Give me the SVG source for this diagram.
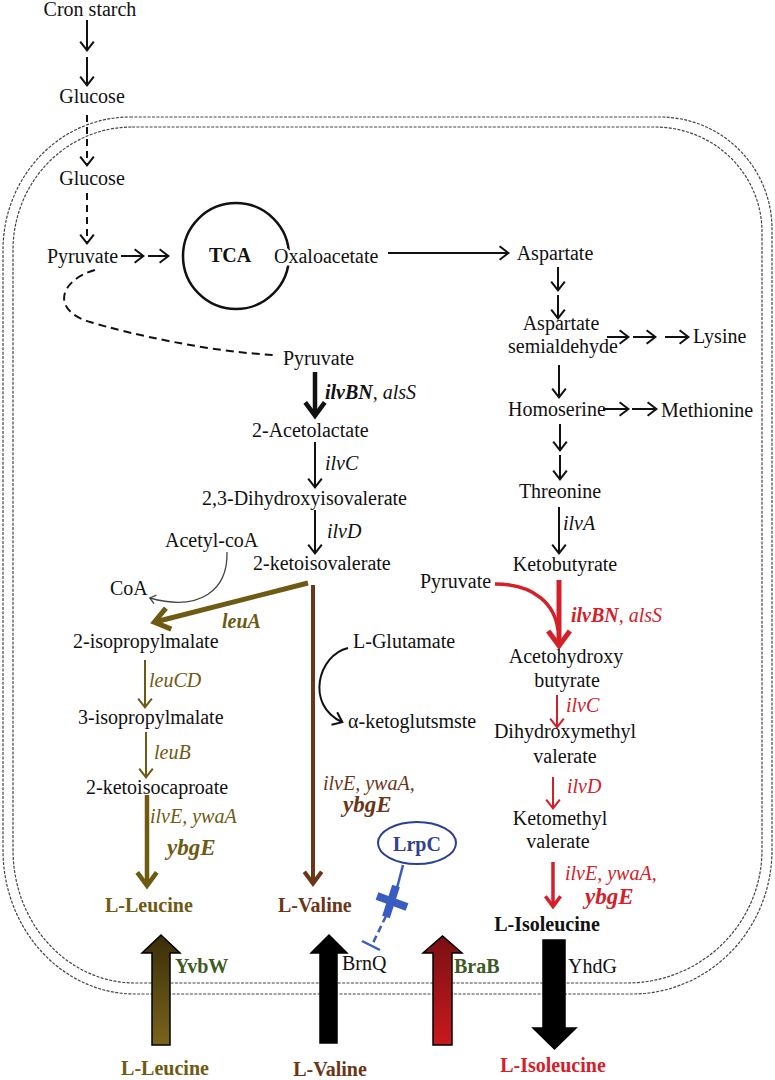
<svg xmlns="http://www.w3.org/2000/svg" width="775" height="1080" viewBox="0 0 775 1080">
<style>
.t{font-family:"Liberation Serif","Times New Roman",serif;font-size:20px;fill:#111}
.m{text-anchor:middle}
.it{font-style:italic}
.bd{font-weight:bold}
.big{font-size:23px}
.ol{fill:#6e5a12}
.br{fill:#6b3617}
.rd{fill:#d4202a}
.gn{fill:#3d5a22}
.bl{fill:#2c3f94}
.mem{fill:none;stroke:#444;stroke-width:1.2;stroke-dasharray:3 1.4}
.k{fill:none;stroke:#111;stroke-width:2;marker-end:url(#ak)}
.kd{fill:none;stroke:#111;stroke-width:2;stroke-dasharray:7 5;marker-end:url(#ak)}
.kT{fill:none;stroke:#111;stroke-width:4.5;marker-end:url(#akT)}
.r{fill:none;stroke:#d4202a;stroke-width:2;marker-end:url(#ar)}
.rT{fill:none;stroke:#d4202a;marker-end:url(#arT)}
.o{fill:none;stroke:#6e5a12;stroke-width:2;marker-end:url(#ao)}
.oT{fill:none;stroke:#6e5a12;marker-end:url(#aoT)}
.b{fill:none;stroke:#6b3617;stroke-width:4;marker-end:url(#abT)}
.blk{stroke:#000;stroke-width:1.5}
</style>
<defs>
<marker id="ak" viewBox="0 0 6 8" markerWidth="6" markerHeight="8" refX="4.8" refY="4" orient="auto" markerUnits="strokeWidth" overflow="visible"><path d="M0.6,0.6 L5,4 L0.6,7.4" fill="none" stroke="#111" stroke-width="1"/></marker>
<marker id="ar" viewBox="0 0 6 8" markerWidth="6" markerHeight="8" refX="4.8" refY="4" orient="auto" markerUnits="strokeWidth" overflow="visible"><path d="M0.6,0.6 L5,4 L0.6,7.4" fill="none" stroke="#d4202a" stroke-width="1"/></marker>
<marker id="ao" viewBox="0 0 6 8" markerWidth="6" markerHeight="8" refX="4.8" refY="4" orient="auto" markerUnits="strokeWidth" overflow="visible"><path d="M0.6,0.6 L5,4 L0.6,7.4" fill="none" stroke="#6e5a12" stroke-width="1"/></marker>
<marker id="ag" viewBox="0 0 6 8" markerWidth="6" markerHeight="8" refX="4.8" refY="4" orient="auto" markerUnits="strokeWidth" overflow="visible"><path d="M0.6,0.6 L5,4 L0.6,7.4" fill="none" stroke="#444" stroke-width="1"/></marker>
<marker id="akT" viewBox="0 0 6 8" markerWidth="4.2" markerHeight="5.6" refX="4.8" refY="4" orient="auto" markerUnits="strokeWidth" overflow="visible"><path d="M0.8,0.9 L5,4 L0.8,7.1" fill="none" stroke="#111" stroke-width="1.45"/></marker>
<marker id="arT" viewBox="0 0 6 8" markerWidth="4.2" markerHeight="5.6" refX="4.8" refY="4" orient="auto" markerUnits="strokeWidth" overflow="visible"><path d="M0.8,0.9 L5,4 L0.8,7.1" fill="none" stroke="#d4202a" stroke-width="1.45"/></marker>
<marker id="aoT" viewBox="0 0 6 8" markerWidth="4.2" markerHeight="5.6" refX="4.8" refY="4" orient="auto" markerUnits="strokeWidth" overflow="visible"><path d="M0.8,0.9 L5,4 L0.8,7.1" fill="none" stroke="#6e5a12" stroke-width="1.45"/></marker>
<marker id="abT" viewBox="0 0 6 8" markerWidth="4.2" markerHeight="5.6" refX="4.8" refY="4" orient="auto" markerUnits="strokeWidth" overflow="visible"><path d="M0.8,0.9 L5,4 L0.8,7.1" fill="none" stroke="#6b3617" stroke-width="1.45"/></marker>
<linearGradient id="gLeu" x1="0" y1="0" x2="0" y2="1"><stop offset="0" stop-color="#3a2d08"/><stop offset="1" stop-color="#7a651c"/></linearGradient>
<linearGradient id="gIle" x1="0" y1="0" x2="0" y2="1"><stop offset="0" stop-color="#7a1012"/><stop offset="1" stop-color="#c8191e"/></linearGradient>
</defs>
<rect width="775" height="1080" fill="#fff"/>

<g id="membrane">
<path class="mem" d="M130,117 H660 A112,112 0 0 1 772,229 V850 A140,144 0 0 1 632,994 H135 A132,144 0 0 1 3,850 V250 A127,133 0 0 1 130,117 Z"/>
<path class="mem" d="M132,127 H655 A107,105 0 0 1 762,232 V850 A135,133 0 0 1 627,983 H135 A122,133 0 0 1 13,850 V250 A119,123 0 0 1 132,127 Z"/>
</g>

<g id="tca"><circle cx="236" cy="256" r="53" fill="none" stroke="#111" stroke-width="2.5"/><text class="t bd m" x="230" y="262">TCA</text></g>

<g id="connectors">
<line class="k" x1="87" y1="20" x2="87" y2="50"/>
<line class="k" x1="87" y1="57" x2="87" y2="85"/>
<line class="kd" x1="87" y1="115" x2="87" y2="165"/>
<line class="kd" x1="87" y1="193" x2="87" y2="243"/>
<line class="k" x1="121" y1="256" x2="143" y2="256"/>
<line class="k" x1="148" y1="256" x2="168" y2="256"/>
<line class="k" x1="388" y1="253" x2="508" y2="253"/>
<line class="k" x1="558" y1="267" x2="558" y2="290"/>
<line class="k" x1="558" y1="295" x2="558" y2="318"/>
<line class="k" x1="607" y1="337" x2="628" y2="337"/>
<line class="k" x1="633" y1="337" x2="655" y2="337"/>
<line class="k" x1="665" y1="337" x2="688" y2="337"/>
<line class="k" x1="559" y1="365" x2="559" y2="397"/>
<line class="k" x1="603" y1="409" x2="628" y2="409"/>
<line class="k" x1="632" y1="409" x2="656" y2="409"/>
<line class="k" x1="560" y1="424" x2="560" y2="450"/>
<line class="k" x1="560" y1="455" x2="560" y2="479"/>
<line class="k" x1="559" y1="507" x2="559" y2="553"/>
<path d="M95,270 C60,280 50,310 90,322 S210,352 275,355" fill="none" stroke="#111" stroke-width="2" stroke-dasharray="8 5"/>
<line class="kT" x1="315" y1="372" x2="315" y2="415"/>
<line class="k" x1="315" y1="442" x2="315" y2="487"/>
<line class="k" x1="315" y1="510" x2="315" y2="553"/>
<path d="M227,552 C228,590 200,612 150,598" fill="none" stroke="#444" stroke-width="1.3" marker-end="url(#ag)"/>
<line class="oT" style="stroke-width:5" x1="308" y1="583" x2="155" y2="622"/>
<line class="b" x1="313" y1="585" x2="313" y2="883"/>
<path class="k" d="M348,648 C318,655 305,705 342,722"/>
<line class="o" x1="145" y1="660" x2="145" y2="707"/>
<line class="o" x1="146" y1="732" x2="146" y2="777"/>
<line class="oT" style="stroke-width:4.5" x1="147" y1="795" x2="147" y2="885"/>
<path d="M495,584 C535,584 555,605 558,630" fill="none" stroke="#d4202a" stroke-width="3.5"/>
<line class="rT" style="stroke-width:5" x1="559" y1="580" x2="559" y2="645"/>
<line class="r" x1="557" y1="695" x2="557" y2="727"/>
<line class="r" x1="553" y1="777" x2="553" y2="808"/>
<line class="rT" style="stroke-width:3.5" x1="553" y1="862" x2="553" y2="906"/>
<line x1="403" y1="865" x2="397" y2="888" stroke="#3a5cc0" stroke-width="2.5"/>
<line x1="386" y1="916" x2="372" y2="945" stroke="#3a5cc0" stroke-width="2.5" stroke-dasharray="7 4"/>
<line x1="362" y1="941" x2="380" y2="950" stroke="#3a5cc0" stroke-width="2.5"/>
</g>

<g id="inhibition-x">
<line x1="377" y1="896" x2="407" y2="907" stroke="#3a5cc0" stroke-width="8"/>
<line x1="396" y1="886" x2="386" y2="917" stroke="#3a5cc0" stroke-width="8"/>
</g>

<g id="n-cron"><text class="t m" x="90" y="16">Cron starch</text></g>
<g id="n-glucose-out"><text class="t m" x="92" y="103">Glucose</text></g>
<g id="n-glucose-in"><text class="t m" x="92" y="185">Glucose</text></g>
<g id="n-pyruvate1"><text class="t" x="47" y="263">Pyruvate</text></g>
<g id="n-oxaloacetate"><text class="t" x="274" y="263" stroke="#fff" stroke-width="5" paint-order="stroke">Oxaloacetate</text></g>
<g id="n-aspartate"><text class="t m" x="555" y="260">Aspartate</text></g>
<g id="n-asa"><text class="t m" x="561" y="330">Aspartate</text><text class="t m" x="563" y="353">semialdehyde</text></g>
<g id="n-lysine"><text class="t" x="693" y="343">Lysine</text></g>
<g id="n-homoserine"><text class="t" x="508" y="416">Homoserine</text></g>
<g id="n-methionine"><text class="t" x="661" y="417">Methionine</text></g>
<g id="n-threonine"><text class="t m" x="560" y="498">Threonine</text></g>
<g id="g-ilvA"><text class="t it" x="563" y="530">ilvA</text></g>
<g id="n-ketobutyrate"><text class="t m" x="565" y="571">Ketobutyrate</text></g>
<g id="n-pyruvate3"><text class="t" x="420" y="588">Pyruvate</text></g>
<g id="g-ilvBN-r"><text class="t rd" x="571" y="622"><tspan class="bd it">ilvBN</tspan><tspan class="it">, alsS</tspan></text></g>
<g id="n-acetohydroxy"><text class="t m" x="566" y="663">Acetohydroxy</text><text class="t m" x="567" y="687">butyrate</text></g>
<g id="g-ilvC-r"><text class="t it rd" x="566" y="712">ilvC</text></g>
<g id="n-dihydroxymethyl"><text class="t m" x="565" y="738">Dihydroxymethyl</text><text class="t m" x="565" y="763">valerate</text></g>
<g id="g-ilvD-r"><text class="t it rd" x="567" y="793">ilvD</text></g>
<g id="n-ketomethyl"><text class="t m" x="560" y="825">Ketomethyl</text><text class="t m" x="558" y="848">valerate</text></g>
<g id="g-ilvE-r"><text class="t it rd" x="565" y="880">ilvE, ywaA,</text><text class="t it bd big rd" x="585" y="904">ybgE</text></g>
<g id="n-ile-in"><text class="t bd m" x="547" y="931">L-Isoleucine</text></g>

<g id="n-pyruvate2"><text class="t" x="283" y="365">Pyruvate</text></g>
<g id="g-ilvBN"><text class="t" x="325" y="399"><tspan class="bd it">ilvBN</tspan><tspan class="it">, alsS</tspan></text></g>
<g id="n-acetolactate"><text class="t" x="252" y="437">2-Acetolactate</text></g>
<g id="g-ilvC"><text class="t it" x="325" y="470">ilvC</text></g>
<g id="n-dhiv"><text class="t" x="202" y="505">2,3-Dihydroxyisovalerate</text></g>
<g id="g-ilvD"><text class="t it" x="327" y="538">ilvD</text></g>
<g id="n-acetylcoa"><text class="t" x="165" y="547">Acetyl-coA</text></g>
<g id="n-kiv"><text class="t" x="253" y="570">2-ketoisovalerate</text></g>
<g id="n-coa"><text class="t" x="110" y="595">CoA</text></g>
<g id="g-leuA"><text class="t bd it ol" x="222" y="628">leuA</text></g>
<g id="n-glutamate"><text class="t" x="353" y="648">L-Glutamate</text></g>
<g id="n-akg"><text class="t" x="348" y="728">α-ketoglutsmste</text></g>
<g id="g-ilvE-b"><text class="t it br" x="323" y="790">ilvE, ywaA,</text><text class="t it bd big br" x="343" y="812">ybgE</text></g>
<g id="n-lrpc"><ellipse cx="417" cy="843" rx="39" ry="21" fill="#fff" stroke="#2c3f94" stroke-width="2"/><text class="t bd m bl" x="417" y="851">LrpC</text></g>
<g id="n-val-in"><text class="t bd br" x="278" y="912">L-Valine</text></g>

<g id="n-ipm2"><text class="t" x="73" y="648">2-isopropylmalate</text></g>
<g id="g-leuCD"><text class="t it ol" x="149" y="687">leuCD</text></g>
<g id="n-ipm3"><text class="t" x="78" y="724">3-isopropylmalate</text></g>
<g id="g-leuB"><text class="t it ol" x="154" y="759">leuB</text></g>
<g id="n-kic"><text class="t" x="86" y="794">2-ketoisocaproate</text></g>
<g id="g-ilvE-o"><text class="t it ol" x="150" y="823">ilvE, ywaA</text><text class="t it bd big ol" x="167" y="855">ybgE</text></g>
<g id="n-leu-in"><text class="t bd ol" x="105" y="912">L-Leucine</text></g>

<g id="t-yvbw"><polygon class="blk" fill="url(#gLeu)" points="152,1045 170,1045 170,953 180,953 161,935 142,953 152,953"/><text class="t bd gn" x="175" y="973">YvbW</text></g>
<g id="t-brnq"><polygon class="blk" fill="#000" points="320,1043 337,1043 337,953 347,953 329,935 311,953 320,953"/><text class="t" x="342" y="970">BrnQ</text></g>
<g id="t-brab"><polygon class="blk" fill="url(#gIle)" points="433,1045 452,1045 452,953 462,953 442.5,936 423,953 433,953"/><text class="t bd gn" x="454" y="973">BraB</text></g>
<g id="t-yhdg"><polygon class="blk" fill="#000" points="543,940 565,940 565,1028 576,1028 554.5,1049 533,1028 543,1028"/><text class="t" x="568" y="973">YhdG</text></g>

<g id="n-leu-out"><text class="t bd m ol" x="165" y="1075">L-Leucine</text></g>
<g id="n-val-out"><text class="t bd m br" x="330" y="1076">L-Valine</text></g>
<g id="n-ile-out"><text class="t bd m rd" x="553" y="1072">L-Isoleucine</text></g>
</svg>
